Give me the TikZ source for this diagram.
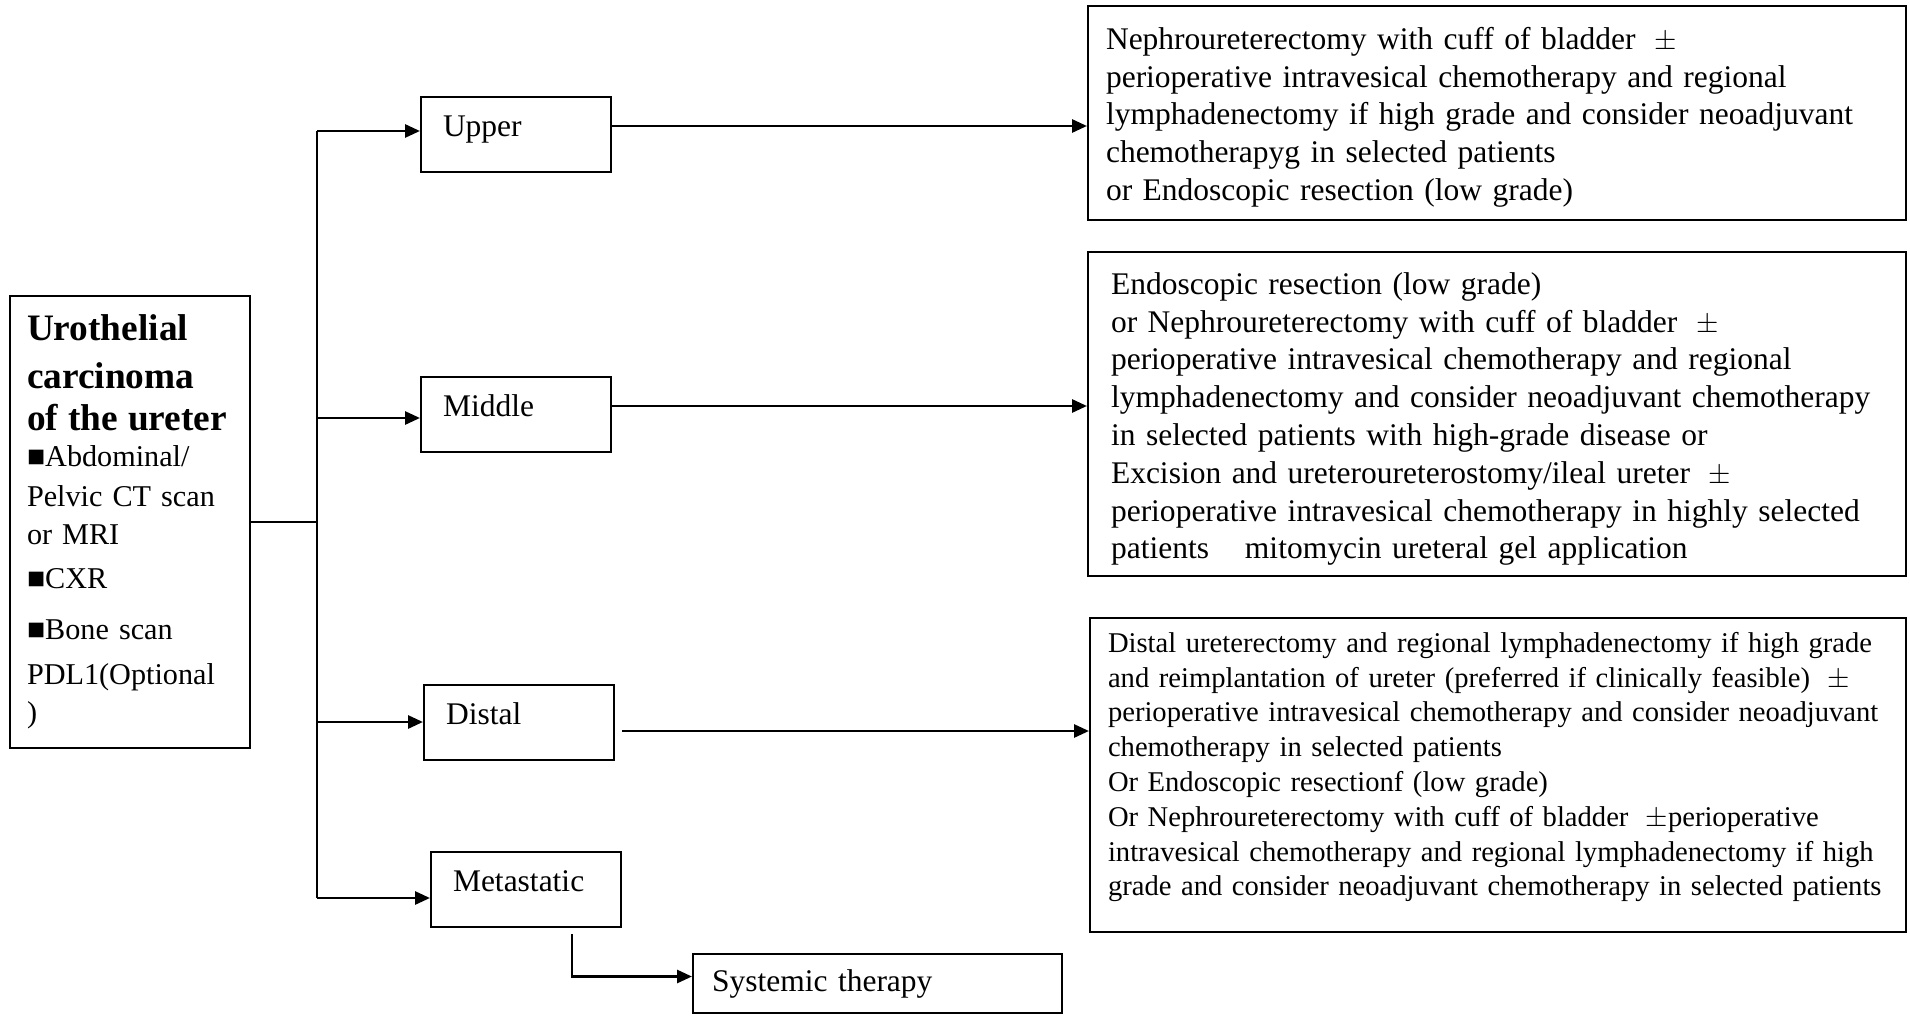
\documentclass[tikz,border=0pt]{standalone}
\usepackage{fontspec}
\setmainfont{Liberation Serif}
\usetikzlibrary{arrows.meta}
\newcommand{\plusminus}{\hspace{0.6em}$\pm$}
\begin{document}
\begin{tikzpicture}[x=0.5pt,y=-0.5pt,
  box/.style={draw, line width=1pt, inner ysep=0pt, align=left},
  bodytext/.style={font=\fontsize{15.75}{18.9}\selectfont},
  smalltext/.style={font=\fontsize{14.3}{17.4}\selectfont},
  stagebox/.style={box, bodytext, inner xsep=11pt, text width=73pt,
    minimum height=37.5pt, text height=11pt, text depth=9pt},
  plain/.style={line width=1pt},
  arr/.style={line width=1.4pt, -{Triangle[length=7.5pt,width=6.5pt]}},
]
\useasboundingbox (0,0) rectangle (1910,1016);

% diagnosis and work-up
\node[box, inner xsep=8.5pt, text width=103pt, minimum height=226pt,
      font=\fontsize{15.1}{19}\selectfont] (diag) at (130,522)
  {{\fontsize{18.67}{21.3}\selectfont\bfseries Urothelial\\[2.3pt]
    carcinoma\\[2.3pt] of the ureter}\\[-1pt]
   ■Abdominal/\\[1pt]
   Pelvic CT scan\\
   or MRI\\[3pt]
   ■CXR\\[6.5pt]
   ■Bone scan\\[3.5pt]
   PDL1(Optional\\
   )};

% tumour location
\node[stagebox] (upper)  at (516,135)   {Upper};
\node[stagebox] (middle) at (516,414.5) {Middle};
\node[stagebox] (distal) at (519,722)   {Distal};
\node[stagebox] (meta)   at (526,889.5) {Metastatic};
\node[box, bodytext, inner xsep=9.5pt, text width=165.5pt, minimum height=29.5pt]
  (sys) at (877.5,983.5) {Systemic therapy};

% treatment options
\node[box, bodytext, inner xsep=9pt, text width=391pt, minimum height=107pt]
  (tUpper) at (1497,113)
  {\rule{0pt}{15.3pt}Nephroureterectomy with cuff of bladder\plusminus\\
   perioperative intravesical chemotherapy and regional\\
   lymphadenectomy if high grade and consider neoadjuvant\\
   chemotherapyg in selected patients\\
   or Endoscopic resection (low grade)};

\node[box, bodytext, inner xsep=11.5pt, text width=386pt, minimum height=162pt]
  (tMiddle) at (1497,414)
  {\rule{0pt}{16pt}Endoscopic resection (low grade)\\
   or Nephroureterectomy with cuff of bladder\plusminus\\
   perioperative intravesical chemotherapy and regional\\
   lymphadenectomy and consider neoadjuvant chemotherapy\\
   in selected patients with high-grade disease or\\
   Excision and ureteroureterostomy/ileal ureter\plusminus\\
   perioperative intravesical chemotherapy in highly selected\\
   patients\hspace{18pt}mitomycin ureteral gel application};

\node[box, smalltext, inner xsep=9pt, text width=390pt, minimum height=157pt]
  (tDistal) at (1498,775)
  {Distal ureterectomy and regional lymphadenectomy if high grade\\
   and reimplantation of ureter (preferred if clinically feasible)\plusminus\\
   perioperative intravesical chemotherapy and consider neoadjuvant\\
   chemotherapy in selected patients\\
   Or Endoscopic resectionf (low grade)\\
   Or Nephroureterectomy with cuff of bladder\plusminus perioperative\\
   intravesical chemotherapy and regional lymphadenectomy if high\\
   grade and consider neoadjuvant chemotherapy in selected patients\rule[-11pt]{0pt}{0pt}};

% branching spine
\coordinate (spT) at (317,131);
\coordinate (spM) at (317,418);
\coordinate (spD) at (317,722);
\coordinate (spB) at (317,898);
\draw[plain] (spT) -- (spB);
\draw[plain] (diag.east) -- (diag.east -| spT);

\draw[arr] (spT) -- (spT -| upper.west);
\draw[arr] (spM) -- (spM -| middle.west);
\draw[arr] (spD) -- (spD -| distal.west);
\draw[arr] (spB) -- (spB -| meta.west);

% location to treatment
\draw[arr] ([yshift=4.5pt]upper.east) coordinate (uo) -- (uo -| tUpper.west);
\draw[arr] ([yshift=4.25pt]middle.east) coordinate (mo) -- (mo -| tMiddle.west);
\draw[arr] ([xshift=3.5pt,yshift=-4.5pt]distal.east) coordinate (do) -- (do -| tDistal.west);
\draw[arr] ([xshift=23pt,yshift=-3pt]meta.south) |- ([yshift=3.5pt]sys.west);
\end{tikzpicture}
\end{document}
